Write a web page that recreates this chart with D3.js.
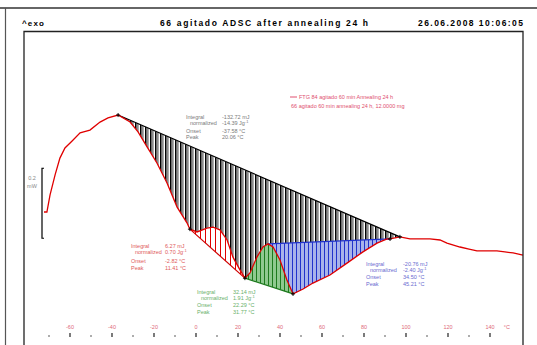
<!DOCTYPE html>
<html><head><meta charset="utf-8">
<script src="https://cdn.jsdelivr.net/npm/d3@7"></script>
<style>body{margin:0;background:#fff}svg{display:block}text{font-family:"Liberation Sans",Arial,sans-serif}</style>
</head><body><svg id="c" width="537" height="345"></svg>
<script>
// DSC heating curve: temperature (°C) and heat flow (mW), exo up
const temps = [-72.4,-71.0,-69.5,-67.1,-64.8,-62.4,-59.0,-55.2,-50.5,-45.7,-41.9,-37.1,-31.4,-27.6,-23.3,-18.6,-13.8,-9.0,-4.3,-2.9,0.5,5.2,8.1,11.4,14.8,17.6,21.0,23.3,25.7,29.0,31.9,34.3,36.7,40.0,43.3,46.2,51.0,55.7,63.8,71.9,79.5,86.2,91.0,92.4,97.1,101.9,107.0,111.4,116.2,119.5,125.7,130.0,133.8,138.5,143.3,147.1,151.0,155.7];
const heatFlow = [0.000,0.000,0.049,0.106,0.154,0.183,0.203,0.226,0.234,0.257,0.269,0.277,0.257,0.229,0.186,0.140,0.083,0.014,-0.031,-0.049,-0.057,-0.046,-0.043,-0.051,-0.080,-0.129,-0.166,-0.189,-0.174,-0.129,-0.100,-0.091,-0.100,-0.137,-0.194,-0.234,-0.220,-0.203,-0.180,-0.146,-0.114,-0.089,-0.077,-0.077,-0.071,-0.077,-0.077,-0.077,-0.080,-0.089,-0.100,-0.106,-0.111,-0.111,-0.111,-0.114,-0.117,-0.123];

// integration limits (°C) for each evaluated step
const blackLimits = [-37.1, 97.1];
const redLimits = [-2.9, 23.3];
const greenLimits = [23.3, 46.2];
const blueLimits = [34.3, 92.4];

const rowNames = ["Integral", "normalized", "Onset", "Peak"];
const blackResults = ["-132.72 mJ", "-14.39 Jg^-1", "-37.58 °C", "20.06 °C"];
const redResults = ["6.27 mJ", "0.70 Jg^-1", "-2.82 °C", "11.41 °C"];
const greenResults = ["32.14 mJ", "1.91 Jg^-1", "22.29 °C", "31.77 °C"];
const blueResults = ["-20.76 mJ", "-2.40 Jg^-1", "34.50 °C", "45.21 °C"];

const tickTemps = [-60, -40, -20, 0, 20, 40, 60, 80, 100, 120, 140];
const minorTemps = [-70, -50, -30, -10, 10, 30, 50, 70, 90, 110, 130];
const legendLines = ["FTG 84 agitado 60 min Annealing 24 h", "66 agitado 60 min annealing 24 h, 12.0000 mg"];

const svg = d3.select("#c");
const x = d3.scaleLinear().domain([-60, 140]).range([70, 490]);
const y = d3.scaleLinear().domain([0, 0.2]).range([212, 142]);

const pts = temps.map((t, i) => [t, heatFlow[i]]);
const valAt = t => pts.find(p => p[0] === t)[1];

// hatch patterns
const defs = svg.append("defs");
function hatch(id, bg, line, period, lw, gap) {
  const p = defs.append("pattern").attr("id", id).attr("patternUnits", "userSpaceOnUse")
    .attr("width", period).attr("height", 10);
  p.append("rect").attr("width", period).attr("height", 10).attr("fill", "#fff");
  p.append("rect").attr("x", lw).attr("width", period - lw - gap).attr("height", 10).attr("fill", bg);
  p.append("rect").attr("x", 0).attr("width", lw).attr("height", 10).attr("fill", line);
}
hatch("hBlack", "#8a8a8a", "#000", 5, 1.4, 1.3);
hatch("hRed", "#fff", "#e00000", 5, 1, 0);
hatch("hGreen", "#8fc98f", "#1e7a1e", 4, 1, 0);
hatch("hBlue", "#a9b3ea", "#2233cc", 4, 1, 0);

function region(lim, fill, stroke) {
  const seg = pts.filter(p => p[0] >= lim[0] && p[0] <= lim[1]);
  const base = [[lim[1], valAt(lim[1])], [lim[0], valAt(lim[0])]];
  const poly = seg.concat(base);
  svg.append("path").attr("d", d3.line().x(d => x(d[0])).y(d => y(d[1]))(poly) + "Z")
    .attr("fill", fill).attr("stroke", "none");
  svg.append("line").attr("x1", x(lim[0])).attr("y1", y(valAt(lim[0])))
    .attr("x2", x(lim[1])).attr("y2", y(valAt(lim[1])))
    .attr("stroke", stroke).attr("stroke-width", 1.2);
}
region(blackLimits, "url(#hBlack)", "#000");
region(redLimits, "url(#hRed)", "#d00000");
region(greenLimits, "url(#hGreen)", "#1e7a1e");
region(blueLimits, "url(#hBlue)", "#2233cc");

// measured curve
svg.append("path").datum(pts)
  .attr("d", d3.line().x(d => x(d[0])).y(d => y(d[1])))
  .attr("fill", "none").attr("stroke", "#e00000").attr("stroke-width", 1.3);

// limit markers
const marks = [blackLimits[0], redLimits[0], greenLimits[0], greenLimits[1], blueLimits[1], blackLimits[1]];
marks.forEach(t => {
  const cx = x(t), cy = y(valAt(t));
  svg.append("path").attr("d", `M${cx-2},${cy}H${cx+2}M${cx},${cy-2}V${cy+2}`)
    .attr("stroke", "#000").attr("stroke-width", 1);
});

// frame
svg.append("line").attr("x1", 0).attr("x2", 537).attr("y1", 8).attr("y2", 8).attr("stroke", "#666").attr("stroke-width", 2);
svg.append("line").attr("x1", 5.5).attr("x2", 5.5).attr("y1", 8).attr("y2", 345).attr("stroke", "#555").attr("stroke-width", 1.2);
svg.append("path").attr("d", "M24,345V31.5H523V345").attr("fill", "none").attr("stroke", "#222").attr("stroke-width", 1.3);

// header
svg.append("text").attr("x", 22).attr("y", 26).attr("font-size", 8).attr("font-weight", "bold")
  .attr("textLength", 22).text("^exo");
svg.append("text").attr("x", 160).attr("y", 26).attr("font-size", 8.5).attr("font-weight", "bold")
  .attr("textLength", 208).text("66 agitado ADSC after annealing 24 h");
svg.append("text").attr("x", 418).attr("y", 26).attr("font-size", 8.5).attr("font-weight", "bold")
  .attr("textLength", 105).text("26.06.2008 10:06:05");

// scale bar
const sb = [-0.075, 0.125];
svg.append("path").attr("d", `M44,${y(sb[1])}H42V${y(sb[0])}H44`).attr("fill", "none").attr("stroke", "#000").attr("stroke-width", 1.2);
svg.append("text").attr("x", 32).attr("y", 180).attr("font-size", 5.5).attr("fill", "#888").attr("text-anchor", "middle").text("0.2");
svg.append("text").attr("x", 32).attr("y", 188).attr("font-size", 5.5).attr("fill", "#888").attr("text-anchor", "middle").text("mW");

// result blocks
function results(x0, x1, ys, vals, color) {
  rowNames.forEach((n, i) => {
    svg.append("text").attr("x", i === 1 ? x0 + 4 : x0).attr("y", ys[i] + 2).attr("font-size", 5.5).attr("fill", color).text(n);
    const v = vals[i];
    const t = svg.append("text").attr("x", x1).attr("y", ys[i] + 2).attr("font-size", 5.5).attr("fill", color);
    if (v.includes("^")) {
      const [a, b] = v.split("^");
      t.append("tspan").text(a);
      t.append("tspan").attr("dy", -2).attr("font-size", 4).text(b);
    } else t.text(v);
  });
}
results(186, 222, [117, 123, 131, 137], blackResults, "#7a7a7a");
results(131, 165, [246, 252, 261, 268], redResults, "#e05a5a");
results(197, 233, [292, 298, 305, 312], greenResults, "#69b069");
results(366, 403, [264, 270, 277, 284], blueResults, "#6a6ad0");

// legend
svg.append("line").attr("x1", 290).attr("x2", 297).attr("y1", 97).attr("y2", 97).attr("stroke", "#e05070").attr("stroke-width", 1);
svg.append("text").attr("x", 299).attr("y", 99).attr("font-size", 5.5).attr("fill", "#e05070").text(legendLines[0]);
svg.append("text").attr("x", 291).attr("y", 108).attr("font-size", 5.5).attr("fill", "#e05070").text(legendLines[1]);

// temperature axis
const ax = svg.append("g");
tickTemps.forEach(t => {
  ax.append("text").attr("x", x(t)).attr("y", 329).attr("text-anchor", "middle").attr("font-size", 5.5).attr("fill", "#e06a7a").text(t);
  ax.append("line").attr("x1", x(t)).attr("x2", x(t)).attr("y1", 333).attr("y2", 337).attr("stroke", "#222").attr("stroke-width", 1.2);
});
minorTemps.forEach(t => {
  ax.append("circle").attr("cx", x(t)).attr("cy", 336).attr("r", 0.8).attr("fill", "#444");
});
ax.append("text").attr("x", x(148)).attr("y", 329).attr("text-anchor", "middle").attr("font-size", 5.5).attr("fill", "#e06a7a").text("°C");
</script></body></html>
